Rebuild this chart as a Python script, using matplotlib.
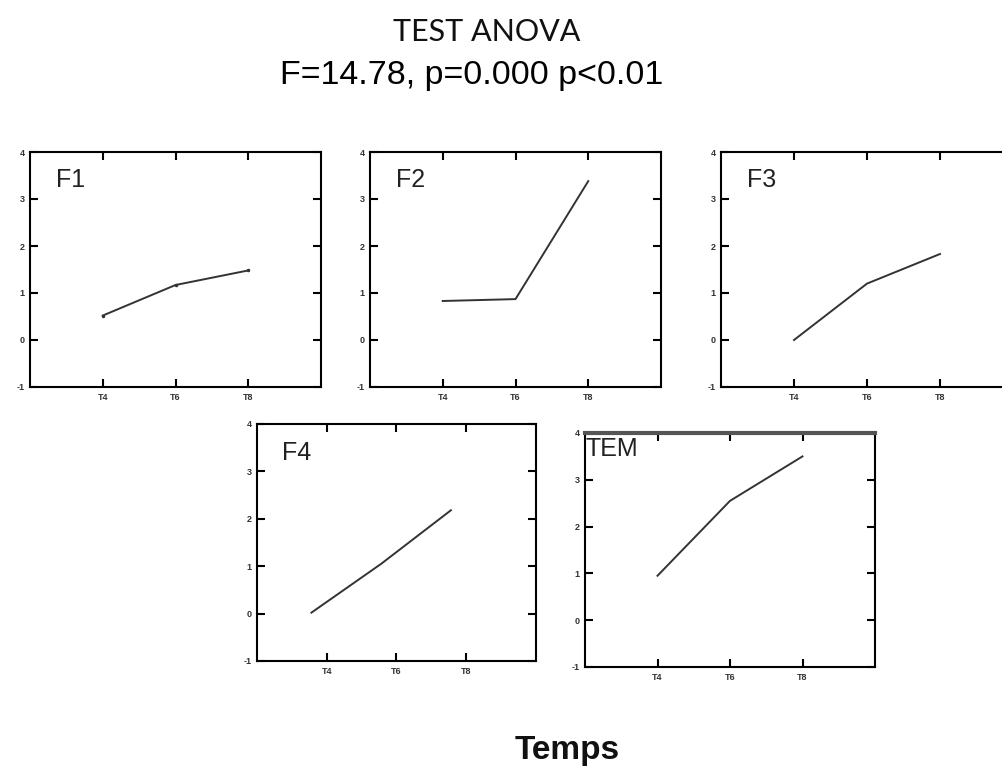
import numpy as np
import matplotlib.pyplot as plt

# mean scores per period for each factor
periods = ['T4', 'T6', 'T8']
f1 = [0.52, 1.17, 1.48]
f2 = [0.83, 0.87, 3.38]
f3 = [0.0, 1.2, 1.83]
f4 = [0.02, 1.05, 2.18]
tem = [0.95, 2.55, 3.5]
yticks = [-1, 0, 1, 2, 3, 4]

W, H = 1002, 767
fig = plt.figure(figsize=(W / 100, H / 100), dpi=100)
plt.rcParams['font.family'] = ['Liberation Sans', 'DejaVu Sans']


def panel(px_left, px_top, px_w, px_h, name, vals, shift=0.0, marker=None):
    ax = fig.add_axes([px_left / W, 1 - (px_top + px_h) / H, px_w / W, px_h / H])
    x = np.arange(1, len(periods) + 1)
    ax.plot(x + shift, vals, color='#333333', lw=1.4, marker=marker, ms=3)
    ax.set_xlim(0, 4)
    ax.set_ylim(-1, 4)
    ax.set_xticks(x)
    ax.set_xticklabels(periods, fontsize=6.5, fontweight='bold', color='#333333')
    ax.set_yticks(yticks)
    ax.set_yticklabels([str(v) for v in yticks], fontsize=6.5, fontweight='bold', color='#333333')
    ax.tick_params(direction='in', top=True, right=True, length=6, width=1.5, pad=4)
    for s in ax.spines.values():
        s.set_linewidth(1.5)
    ax.text(0.09, 0.85, name, transform=ax.transAxes, fontsize=18, color='#222222')
    return ax


panel(30, 152, 291, 235, 'F1', f1, marker='.')
panel(370, 152, 291, 235, 'F2', f2)
panel(721, 152, 292, 235, 'F3', f3)
panel(257, 424, 279, 237, 'F4', f4, shift=-0.22)
ax_tem = panel(585, 433, 290, 234, 'TEM', tem)
ax_tem.texts[0].set_position((0.0, 0.9))
ax_tem.spines['top'].set_color('#555555')
ax_tem.spines['top'].set_linewidth(3)

fig.text(0.486, 0.958, 'TEST ANOVA', ha='center', va='center', fontsize=22,
         family=['Lato', 'DejaVu Sans'], color='#111111')
fig.text(0.471, 0.902, 'F=14.78, p=0.000 p<0.01', ha='center', va='center',
         fontsize=24.5, color='#000000')
fig.text(0.566, 0.022, 'Temps', ha='center', va='center', fontsize=24,
         fontweight='bold', color='#111111')

fig.savefig('out.png', dpi=100)
